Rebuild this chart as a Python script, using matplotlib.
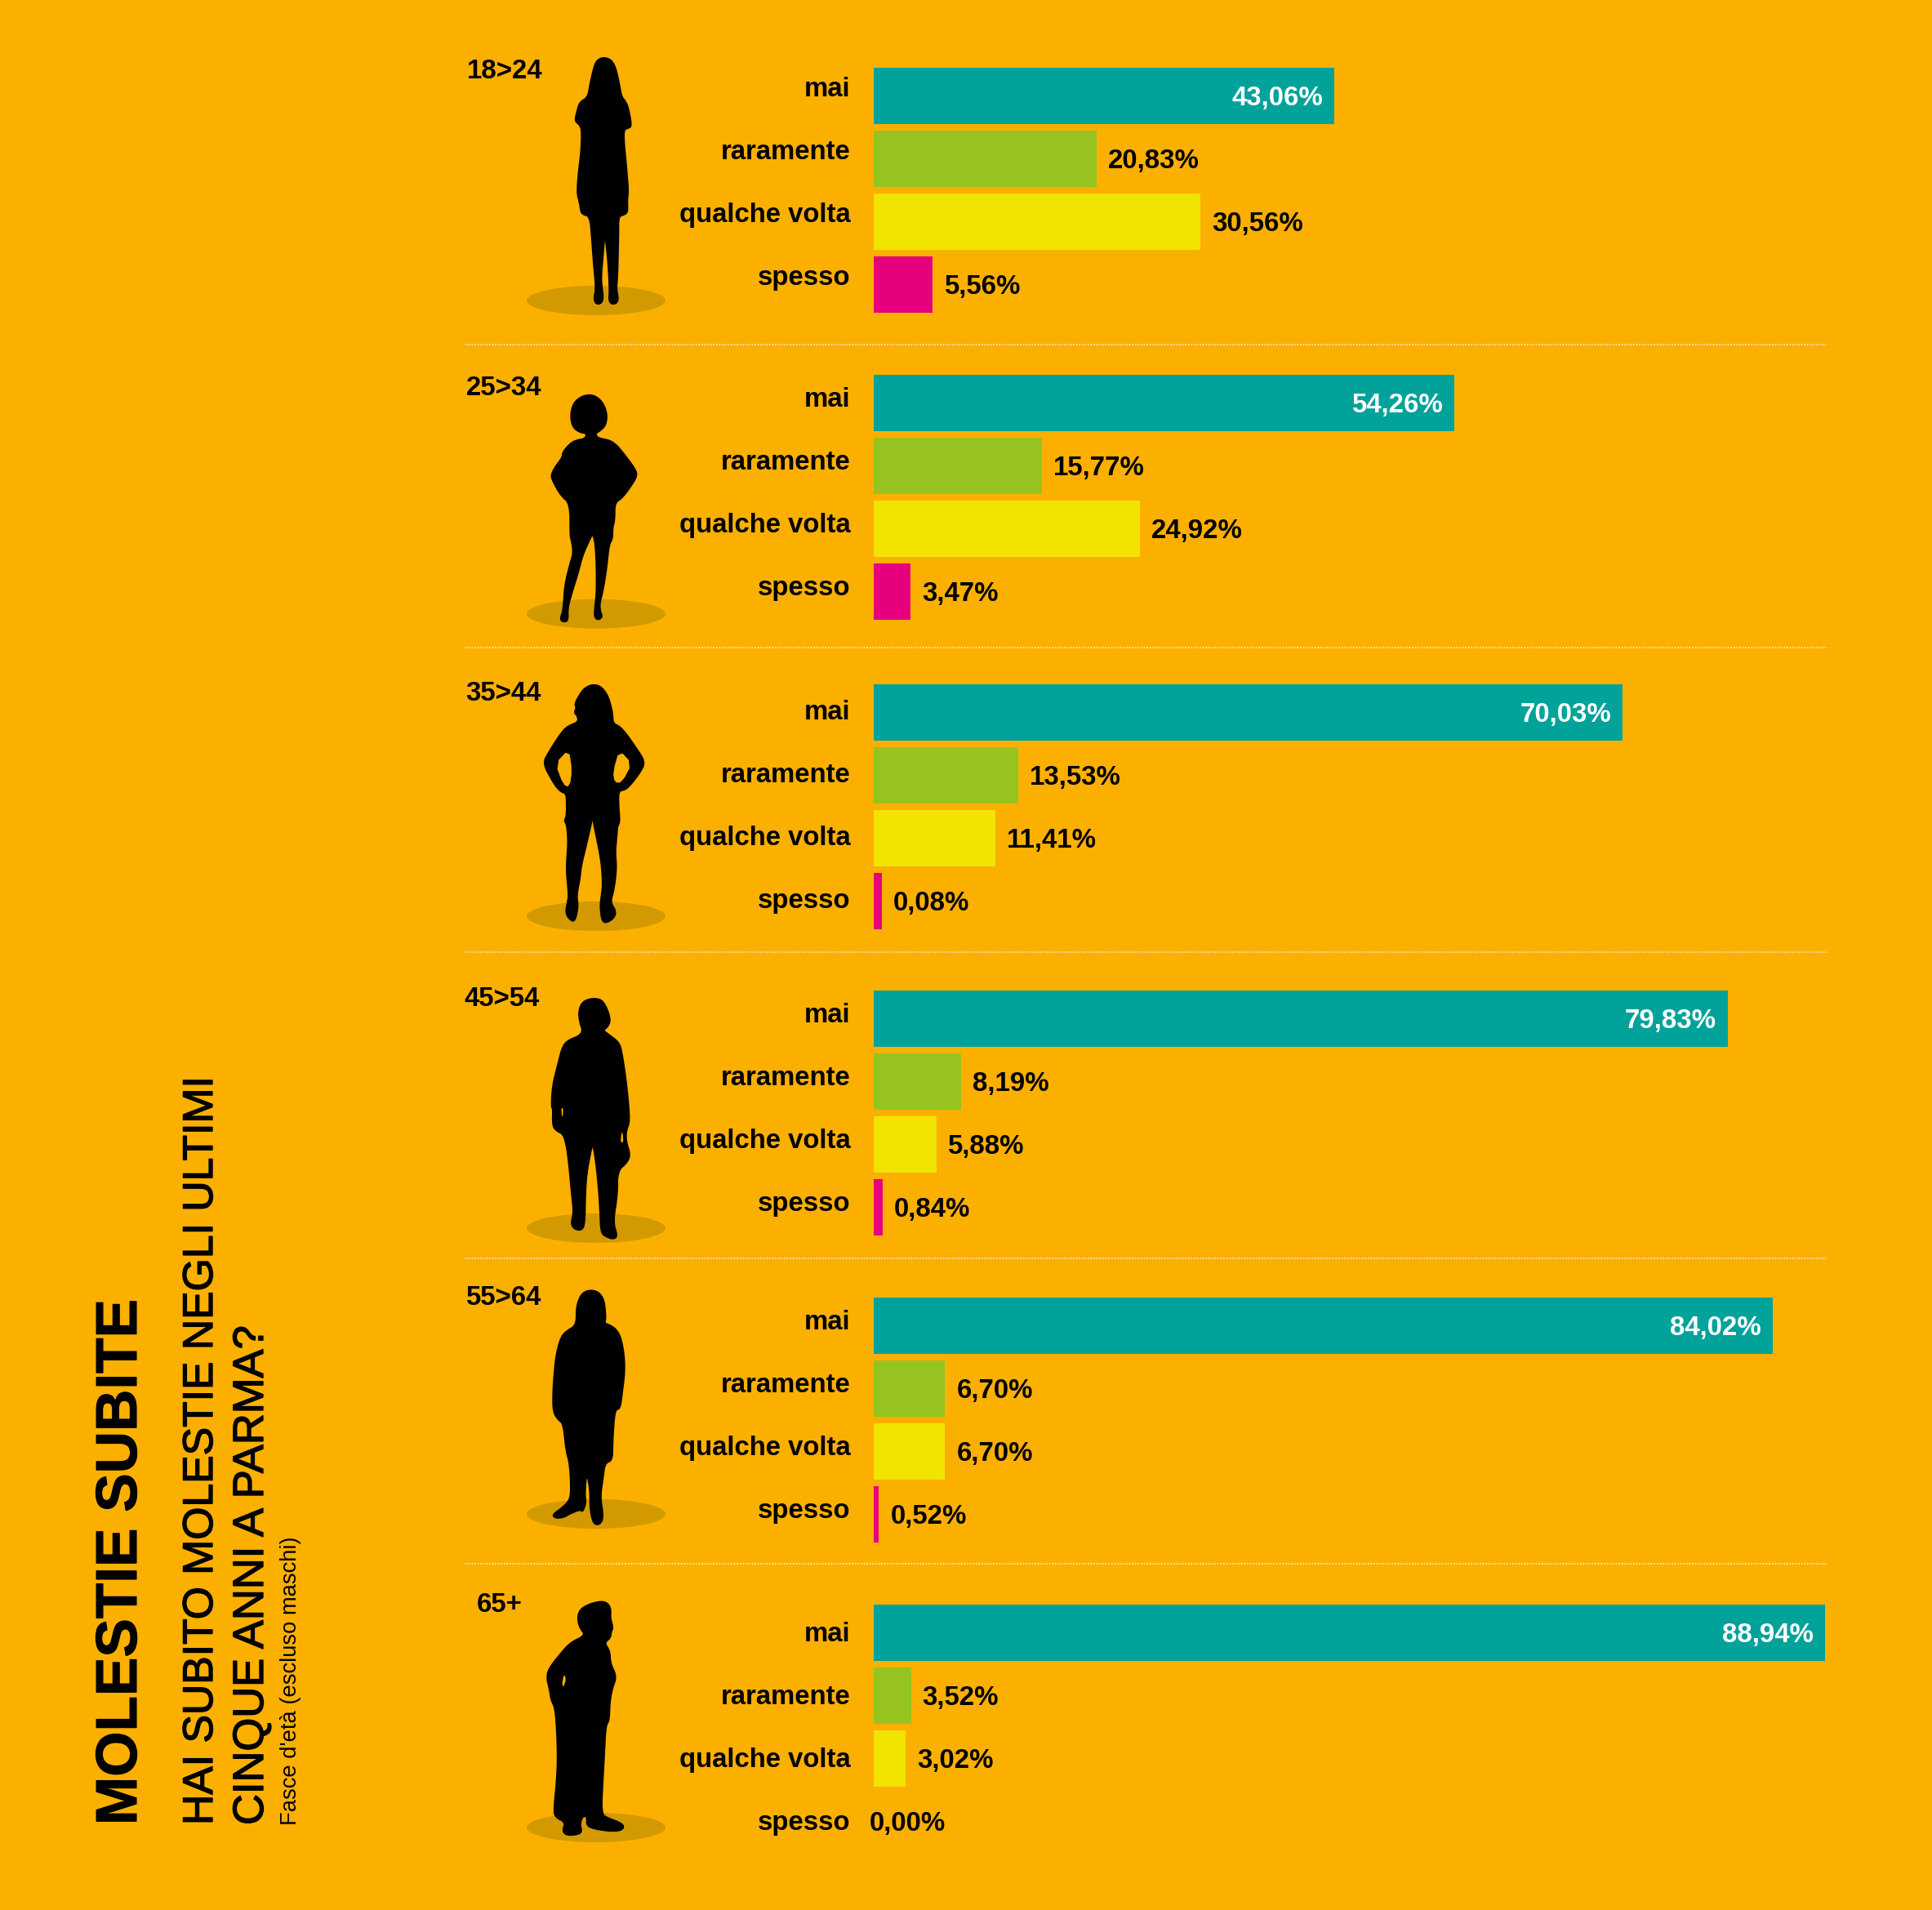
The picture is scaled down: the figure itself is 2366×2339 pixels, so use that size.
import matplotlib
matplotlib.use('Agg')
import matplotlib.pyplot as plt
import matplotlib.patheffects as pe
from matplotlib.patches import Ellipse, Polygon

plt.rcParams['font.family'] = ['Liberation Sans', 'DejaVu Sans']

# chart data
fasce = ['18>24', '25>34', '35>44', '45>54', '55>64', '65+']
risposte = ['mai', 'raramente', 'qualche volta', 'spesso']
mai = [43.06, 54.26, 70.03, 79.83, 84.02, 88.94]
raramente = [20.83, 15.77, 13.53, 8.19, 6.70, 3.52]
qualche_volta = [30.56, 24.92, 11.41, 5.88, 6.70, 3.02]
# the 35>44 bar is drawn about 0,8 wide although its label says 0,08
spesso = [5.56, 3.47, 0.80, 0.84, 0.52, 0.00]
spesso_labels = ['5,56%', '3,47%', '0,08%', '0,84%', '0,52%', '0,00%']

BG = '#FBB000'
SHADOW = '#D29A00'
colori = ['#00A29A', '#97C321', '#F0E400', '#E6007E']
W, H = 2366, 2339

# pixel layout of each age group
bar_tops = [82.7, 459, 837.5, 1213, 1589, 1964.5]
label_shift = [-8, -4, 0, -4, -4, 2]
age_pos = [(618, 88), (617, 476), (616, 849), (615, 1223), (616, 1590), (612, 1966)]
separators = [421.7, 793, 1166, 1541, 1915]
shadow_y = [368, 751.7, 1122, 1504, 1854, 2238]
fig_origin_y = [60, 470, 830, 1210, 1570, 1950]

sil_1 = [(330,32),(352,38),(368,60),(378,95),(386,135),(393,175),(410,195),(420,225),(430,282),(420,290),(402,295),(402,340),(408,400),(414,470),(418,520),(414,560),(416,600),(400,610),(382,615),(382,680),(380,770),(378,840),(374,880),(382,920),(372,936),(355,936),(347,920),(350,890),(345,790),(335,692),(330,692),(325,760),(318,840),(322,880),(326,920),(316,936),(300,936),(292,918),(300,880),(292,800),(285,700),(278,615),(250,607),(244,595),(240,565),(230,530),(236,450),(245,380),(248,300),(240,278),(222,265),(230,230),(240,195),(270,178),(278,130),(288,85),(298,50),(312,36)]
sil_2 = [(272,40),(300,46),(325,70),(340,110),(336,150),(318,170),(298,182),(302,195),(318,202),(350,208),(375,225),(400,255),(445,315),(450,340),(425,380),(395,420),(368,437),(368,500),(360,530),(360,570),(347,590),(338,680),(325,760),(312,810),(316,840),(323,855),(310,867),(295,860),(295,830),(302,770),(302,680),(298,590),(288,548),(275,575),(250,630),(235,690),(210,770),(195,825),(197,870),(180,875),(168,865),(180,830),(185,740),(205,660),(217,620),(210,575),(205,560),(205,440),(170,410),(140,355),(135,335),(150,305),(177,270),(178,250),(205,220),(225,208),(260,202),(266,182),(240,178),(215,160),(206,120),(215,75),(240,50)]
sil_3 = [(285,25),(315,30),(340,60),(352,95),(360,130),(362,168),(385,178),(410,205),(445,255),(481,310),(460,350),(425,395),(405,412),(382,415),(382,470),(387,530),(378,545),(375,590),(370,640),(375,700),(365,780),(352,825),(372,855),(368,880),(340,900),(322,895),(315,840),(320,800),(325,760),(320,680),(305,600),(290,530),(288,500),(283,530),(265,610),(245,690),(240,740),(228,800),(234,840),(222,895),(205,890),(188,865),(195,825),(200,800),(190,700),(198,610),(193,540),(183,525),(192,510),(192,440),(188,425),(165,415),(140,380),(105,315),(125,275),(170,205),(195,178),(235,163),(232,140),(220,128),(228,110),(222,97),(235,70),(255,40)]
sil_4 = [(285,38),(320,42),(340,75),(352,115),(345,140),(325,155),(345,170),(385,200),(395,240),(410,340),(420,440),(422,495),(410,525),(410,565),(425,610),(415,640),(378,672),(378,760),(362,860),(378,910),(365,922),(340,915),(318,900),(315,820),(310,740),(300,640),(288,568),(280,600),(265,680),(260,760),(258,870),(245,890),(220,885),(208,865),(218,825),(210,750),(200,640),(190,570),(178,535),(155,525),(140,505),(142,440),(136,438),(140,360),(160,280),(178,210),(205,188),(235,178),(252,158),(240,125),(236,85),(250,50)]
sil_5 = [(285,30),(310,38),(328,65),(333,100),(335,140),(328,150),(365,165),(388,195),(402,260),(405,330),(395,410),(388,466),(368,468),(360,590),(360,655),(332,665),(325,720),(315,790),(325,850),(322,880),(305,893),(288,882),(278,830),(278,760),(265,695),(258,780),(263,810),(250,845),(243,835),(205,850),(180,865),(150,867),(140,855),(175,830),(205,800),(208,750),(203,665),(190,620),(180,520),(160,505),(142,475),(142,400),(148,320),(155,260),(172,200),(195,178),(218,165),(228,145),(228,95),(240,55),(258,35)]
sil_6 = [(320,32),(345,42),(354,65),(352,95),(362,130),(355,145),(352,168),(330,185),(350,215),(352,260),(375,310),(360,350),(350,400),(348,470),(335,490),(330,590),(325,680),(318,815),(345,830),(385,845),(402,858),(395,873),(360,878),(300,870),(265,858),(268,825),(252,820),(240,850),(248,880),(230,890),(190,892),(177,875),(188,845),(150,825),(145,800),(155,700),(160,600),(152,430),(135,395),(130,360),(118,310),(130,275),(170,225),(205,185),(262,158),(240,130),(232,95),(240,65),(270,45)]
sagome = [sil_1, sil_2, sil_3, sil_4, sil_5, sil_6]
# gaps between arm and body, filled with the background colour
buchi = {
    2: [[(200,262),(150,315),(180,395),(203,400),(212,340)], [(385,265),(432,315),(395,385),(368,385),(362,345)]],
    3: [[(172,442),(179,440),(178,472),(174,470)], [(393,532),(398,532),(400,568),(390,566)]],
    5: [[(182,300),(190,318),(180,350),(175,335)]],
}

fig = plt.figure(figsize=(W / 100, H / 100), dpi=100, facecolor=BG)

# full-figure axes in pixels for everything that is not a bar
bg = fig.add_axes([0, 0, 1, 1])
bg.set_xlim(0, W)
bg.set_ylim(H, 0)
bg.axis('off')


def to_px(points, i):
    return [(630 + x / 3, fig_origin_y[i] + y / 3) for x, y in points]


def rounded(points, passes=2):
    # corner cutting, the traced outlines are too angular otherwise
    for _ in range(passes):
        out = []
        for k, (xa, ya) in enumerate(points):
            xb, yb = points[(k + 1) % len(points)]
            out.append((0.75 * xa + 0.25 * xb, 0.75 * ya + 0.25 * yb))
            out.append((0.25 * xa + 0.75 * xb, 0.25 * ya + 0.75 * yb))
        points = out
    return points


for i, fascia in enumerate(fasce):
    bg.add_patch(Ellipse((730, shadow_y[i]), 170, 36, color=SHADOW, lw=0, zorder=1))
    bg.add_patch(Polygon(rounded(to_px(sagome[i], i)), closed=True, color='black', lw=1.5, zorder=2))
    for buco in buchi.get(i, []):
        bg.add_patch(Polygon(rounded(to_px(buco, i), 1), closed=True, color=BG, lw=0, zorder=3))
    bg.text(age_pos[i][0], age_pos[i][1], fascia, fontsize=23.8, fontweight='bold',
            ha='center', va='center')

for y in separators:
    bg.plot([570, 2237], [y, y], color='#FFE7AE', lw=1.3, linestyle=(0, (1, 1)))

# one small axes per age group, same x scale everywhere
x0, x1 = 1069.6, 2235
pitch = 77
for i in range(len(fasce)):
    top = bar_tops[i] - 3.75
    ax = fig.add_axes([x0 / W, 1 - (top + 4 * pitch) / H, (x1 - x0) / W, 4 * pitch / H])
    ax.set_xlim(0, 88.94)
    ax.set_ylim(3.5, -0.5)
    ax.axis('off')
    values = [mai[i], raramente[i], qualche_volta[i], spesso[i]]
    labels = [f'{v:.2f}%'.replace('.', ',') for v in values[:3]] + [spesso_labels[i]]
    ax.barh(range(4), values, height=0.9, color=colori, linewidth=0)
    for j, (v, lab) in enumerate(zip(values, labels)):
        # category name, slightly off the bar centre as in the original
        ax.annotate(risposte[j], (0, j), xytext=(-20.3, -label_shift[i] * 0.72),
                    textcoords='offset points', fontsize=23.7, fontweight='bold',
                    ha='right', va='center', annotation_clip=False)
        if j == 0:
            ax.annotate(lab, (v, j), xytext=(-10, -2), textcoords='offset points',
                        fontsize=23.8, fontweight='bold', color='white', ha='right', va='center')
        else:
            dx = 10 if v > 0 else -3.5
            ax.annotate(lab, (v, j), xytext=(dx, -2), textcoords='offset points',
                        fontsize=23.8, fontweight='bold', ha='left', va='center',
                        annotation_clip=False)

# rotated titles on the left
heavier = [pe.withStroke(linewidth=1.0, foreground='black')]
bg.text(167, 2235, 'MOLESTIE SUBITE', fontsize=51.2, fontweight='bold', rotation=90,
        ha='left', va='baseline', rotation_mode='anchor',
        path_effects=[pe.withStroke(linewidth=0.8, foreground='black')])
bg.text(260, 2235, 'HAI SUBITO MOLESTIE NEGLI ULTIMI', fontsize=37.2, rotation=90,
        ha='left', va='baseline', rotation_mode='anchor', path_effects=heavier)
bg.text(322, 2235, 'CINQUE ANNI A PARMA?', fontsize=37.8, rotation=90,
        ha='left', va='baseline', rotation_mode='anchor', path_effects=heavier)
bg.text(363, 2235, "Fasce d'età (escluso maschi)", fontsize=19.7, rotation=90,
        ha='left', va='baseline', rotation_mode='anchor')

fig.savefig('out.png', dpi=100, facecolor=BG)
